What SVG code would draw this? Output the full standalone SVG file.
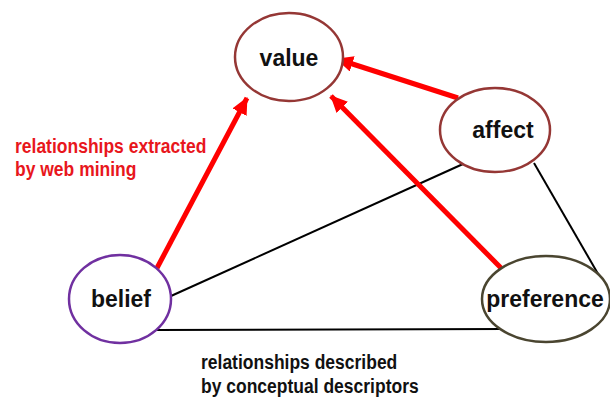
<svg xmlns="http://www.w3.org/2000/svg" width="610" height="399" viewBox="0 0 610 399">
<style>
.node{fill:#fff;stroke-width:2.5}
.lbl{font-family:"Liberation Sans",Arial,sans-serif;font-weight:bold;font-size:23px;fill:#111;text-anchor:middle}
.red{stroke:#f00;stroke-width:5;fill:none}
.blk{stroke:#000;stroke-width:2;fill:none}
.note{font-family:"Liberation Sans",Arial,sans-serif;font-weight:bold;font-size:17.5px}
</style>
<defs>
<marker id="ah" markerUnits="userSpaceOnUse" markerWidth="18" markerHeight="16" refX="16" refY="8" orient="auto">
<path d="M0,0 L17,8 L0,16 Z" fill="#f00"/>
</marker>
</defs>
<g id="connectors">
<line class="blk" x1="171" y1="296" x2="463" y2="164"/>
<line class="blk" x1="534" y1="163" x2="601" y2="279"/>
<line class="blk" x1="156" y1="330" x2="505" y2="329"/>
<line class="red" x1="157" y1="268" x2="247" y2="98" marker-end="url(#ah)"/>
<line class="red" x1="501" y1="268" x2="331" y2="96" marker-end="url(#ah)"/>
<line class="red" x1="458" y1="98" x2="337" y2="59" marker-end="url(#ah)"/>
</g>
<g id="value">
<ellipse class="node" cx="289" cy="57" rx="54" ry="44" stroke="#953735"/>
<text class="lbl" transform="translate(289,66) scale(1,1.08)">value</text>
</g>
<g id="affect">
<ellipse class="node" cx="495" cy="130" rx="55" ry="42" stroke="#953735"/>
<text class="lbl" font-size="24" transform="translate(503,138) scale(1,1.05)">affect</text>
</g>
<g id="belief">
<ellipse class="node" cx="120" cy="299" rx="51" ry="44" stroke="#7030a0"/>
<text class="lbl" transform="translate(121,307) scale(1,1.08)">belief</text>
</g>
<g id="preference">
<ellipse class="node" cx="546" cy="299" rx="64" ry="43" stroke="#4a4530"/>
<text class="lbl" font-size="23.5" transform="translate(545,307) scale(1,1.08)">preference</text>
</g>
<g id="labels">
<text class="note" fill="#e8161c" transform="translate(15,153) scale(1,1.15)">relationships extracted</text>
<text class="note" fill="#e8161c" transform="translate(15,176) scale(1,1.15)">by web mining</text>
<text class="note" fill="#111" transform="translate(201,369) scale(1,1.15)">relationships described</text>
<text class="note" fill="#111" transform="translate(201,393) scale(1,1.15)">by conceptual descriptors</text>
</g>
</svg>
